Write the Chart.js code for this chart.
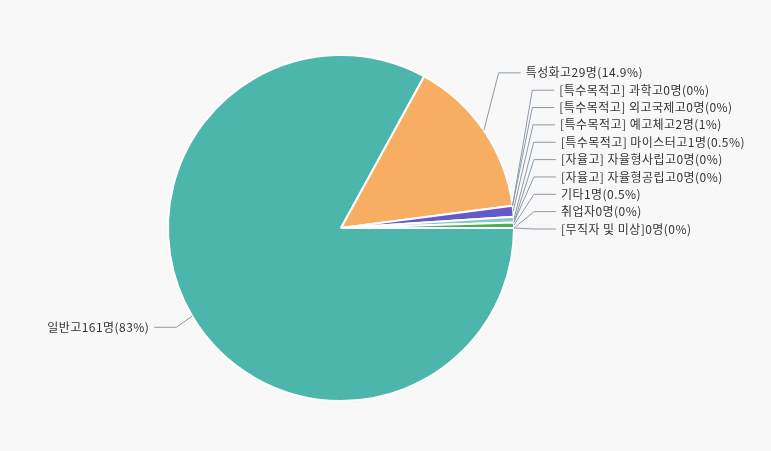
<!DOCTYPE html>
<html>
<head>
<meta charset="utf-8">
<script src="https://cdn.jsdelivr.net/npm/chart.js@4"></script>
<style>
html,body{margin:0;padding:0;background:#f8f8f8;}
#wrap{width:771px;height:451px;}
</style>
</head>
<body>
<div id="wrap"><canvas id="c" width="771" height="451"></canvas></div>
<script>
const categories = [
  "일반고",
  "특성화고",
  "[특수목적고] 과학고",
  "[특수목적고] 외고국제고",
  "[특수목적고] 예고체고",
  "[특수목적고] 마이스터고",
  "[자율고] 자율형사립고",
  "[자율고] 자율형공립고",
  "기타",
  "취업자",
  "[무직자 및 미상]"
];
const counts = [161, 29, 0, 0, 2, 1, 0, 0, 1, 0, 0];
const percentLabels = ["83%", "14.9%", "0%", "0%", "1%", "0.5%", "0%", "0%", "0.5%", "0%", "0%"];
const colors = ["#4db6ac", "#f7ad62", "#e57373", "#9575cd", "#6459c6", "#86c9c6", "#ffb74d", "#a1887f", "#4caf50", "#90a4ae", "#f06292"];

const labelPlugin = {
  id: 'outLabels',
  afterDraw(chart) {
    const ctx = chart.ctx;
    const meta = chart.getDatasetMeta(0);
    const items = [];
    meta.data.forEach((arc, i) => {
      const p = arc.getProps(['x','y','startAngle','endAngle','outerRadius'], true);
      const a = (p.startAngle + p.endAngle) / 2;
      const r = p.outerRadius;
      const cos = Math.cos(a), sin = Math.sin(a);
      items.push({
        i, a, cx: p.x, cy: p.y, r, cos, sin,
        right: cos >= 0,
        ex: p.x + cos * r, ey: p.y + sin * r,
        ideal: p.y + sin * (r + 20) + 1,
        text: categories[i] + counts[i] + "명(" + percentLabels[i] + ")"
      });
    });
    const spacing = 17.35;
    [true, false].forEach(side => {
      const group = items.filter(it => it.right === side).sort((p, q) => p.ideal - q.ideal || p.i - q.i);
      for (let k = group.length - 1; k >= 0; k--) {
        let y = group[k].ideal;
        if (k < group.length - 1) y = Math.min(y, group[k + 1].y - spacing);
        group[k].y = y;
      }
    });
    ctx.save();
    ctx.font = '12px "Noto Sans CJK KR", "Noto Sans", sans-serif';
    try { ctx.letterSpacing = '0.45px'; } catch (e) {}
    ctx.textBaseline = 'middle';
    items.forEach(it => {
      const base = it.cx + it.cos * (it.r + 30);
      const dir = it.right ? 1 : -1;
      const tx = base + dir * 17;
      const elbow = tx - dir * 27;
      const hEnd = tx - dir * 5;
      ctx.strokeStyle = '#8c9aab';
      ctx.lineWidth = 1;
      ctx.beginPath();
      ctx.moveTo(it.ex, it.ey);
      ctx.lineTo(elbow, it.y);
      ctx.lineTo(hEnd, it.y);
      ctx.stroke();
      ctx.fillStyle = '#333333';
      ctx.textAlign = it.right ? 'left' : 'right';
      ctx.fillText(it.text, tx, it.y);
    });
    ctx.restore();
  }
};

new Chart(document.getElementById('c'), {
  type: 'pie',
  data: {
    labels: categories,
    datasets: [{
      data: counts,
      backgroundColor: colors,
      borderColor: '#ffffff',
      borderWidth: 2
    }]
  },
  options: {
    responsive: false,
    animation: false,
    rotation: 90,
    events: [],
    layout: { padding: { top: 54, bottom: 49, left: 167, right: 256 } },
    plugins: { legend: { display: false }, tooltip: { enabled: false } }
  },
  plugins: [labelPlugin]
});
</script>
</body>
</html>
